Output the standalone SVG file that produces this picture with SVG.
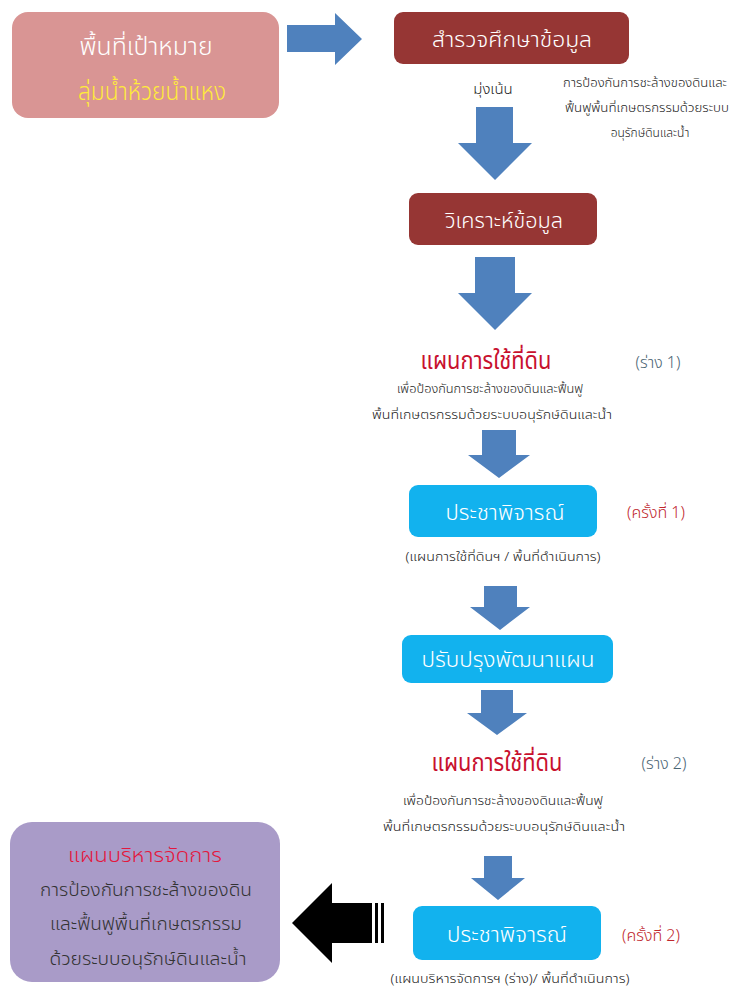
<svg xmlns="http://www.w3.org/2000/svg" width="731" height="989" viewBox="0 0 731 989">
<style>
text{font-family:"Noto Sans Thai","Noto Sans","DejaVu Sans","Liberation Sans",sans-serif;text-anchor:middle;font-weight:300}
.w{fill:#ffffff}
.big{font-size:22px}
.sm{font-size:12px;fill:#1a1a1a;font-weight:350}
.md{font-size:18px;fill:#333}
.red{fill:#c8102e;font-weight:400}
.arrow{fill:#4f81bd}
</style>
<rect width="731" height="989" fill="#ffffff"/>
<g id="connectors">
<polygon class="arrow" points="287,25 335,25 335,13 362,39 335,65 335,52 287,52"/>
<polygon class="arrow" points="476,107 513,107 513,143 532,143 495,180 458,143 476,143"/>
<polygon class="arrow" points="475,257 515,257 515,293 532,293 495,330 458,293 475,293"/>
<polygon class="arrow" points="482,430 516,430 516,455 530,455 499,478 468,455 482,455"/>
<polygon class="arrow" points="484,586 517,586 517,607 530,607 500,630 470,607 484,607"/>
<polygon class="arrow" points="481,690 513,690 513,713 527,713 497,735 467,713 481,713"/>
<polygon class="arrow" points="484,856 512,856 512,878 525,878 498,900 471,878 484,878"/>
<polygon fill="#000000" points="372,903 332,903 332,883 292,923 332,963 332,943 372,943"/>
<rect x="375" y="903" width="3" height="40" fill="#000000"/>
<rect x="381" y="903" width="3" height="40" fill="#000000"/>
</g>
<g id="target">
<rect x="12" y="12" width="267" height="106" rx="16" fill="#d99594"/>
<text class="w" x="146" y="55" font-size="24" textLength="133" lengthAdjust="spacingAndGlyphs">พื้นที่เป้าหมาย</text>
<text x="152" y="100" font-size="24" fill="#ffeb3b" font-weight="400" textLength="148" lengthAdjust="spacingAndGlyphs">ลุ่มน้ำห้วยน้ำแหง</text>
</g>
<g id="survey">
<rect x="394" y="12" width="235" height="52" rx="9" fill="#963634"/>
<text class="w big" x="512" y="47" textLength="160" lengthAdjust="spacingAndGlyphs">สำรวจศึกษาข้อมูล</text>
</g>
<g id="focus">
<text x="493" y="94" font-size="15" fill="#222" font-weight="350">มุ่งเน้น</text>
<text class="sm" x="645" y="87" textLength="164" lengthAdjust="spacingAndGlyphs">การป้องกันการชะล้างของดินและ</text>
<text class="sm" x="647" y="112" textLength="164" lengthAdjust="spacingAndGlyphs">ฟื้นฟูพื้นที่เกษตรกรรมด้วยระบบ</text>
<text class="sm" x="650" y="137">อนุรักษ์ดินและน้ำ</text>
</g>
<g id="analyze">
<rect x="409" y="193" width="188" height="52" rx="9" fill="#963634"/>
<text class="w big" x="504" y="228" textLength="118" lengthAdjust="spacingAndGlyphs">วิเคราะห์ข้อมูล</text>
</g>
<g id="landplan1">
<text class="red" x="486" y="369" font-size="24" textLength="131" lengthAdjust="spacingAndGlyphs">แผนการใช้ที่ดิน</text>
<text x="658" y="368" font-size="16" fill="#4a6473">(ร่าง 1)</text>
<text class="sm" x="490" y="393" textLength="186" lengthAdjust="spacingAndGlyphs">เพื่อป้องกันการชะล้างของดินและฟื้นฟู</text>
<text class="sm" x="492" y="419" textLength="240" lengthAdjust="spacingAndGlyphs">พื้นที่เกษตรกรรมด้วยระบบอนุรักษ์ดินและน้ำ</text>
</g>
<g id="hearing1">
<rect x="409" y="485" width="188" height="52" rx="9" fill="#12b2ee"/>
<text class="w big" x="505" y="520" textLength="119" lengthAdjust="spacingAndGlyphs">ประชาพิจารณ์</text>
<text x="656" y="518" font-size="16" fill="#c0272d">(ครั้งที่ 1)</text>
<text class="sm" x="503" y="561" textLength="195" lengthAdjust="spacingAndGlyphs">(แผนการใช้ที่ดินฯ / พื้นที่ดำเนินการ)</text>
</g>
<g id="improve">
<rect x="402" y="635" width="211" height="48" rx="9" fill="#12b2ee"/>
<text class="w big" x="508" y="667" textLength="173" lengthAdjust="spacingAndGlyphs">ปรับปรุงพัฒนาแผน</text>
</g>
<g id="landplan2">
<text class="red" x="497" y="771" font-size="24" textLength="131" lengthAdjust="spacingAndGlyphs">แผนการใช้ที่ดิน</text>
<text x="664" y="769" font-size="16" fill="#4a6473">(ร่าง 2)</text>
<text class="sm" x="503" y="805" textLength="200" lengthAdjust="spacingAndGlyphs">เพื่อป้องกันการชะล้างของดินและฟื้นฟู</text>
<text class="sm" x="504" y="831" textLength="242" lengthAdjust="spacingAndGlyphs">พื้นที่เกษตรกรรมด้วยระบบอนุรักษ์ดินและน้ำ</text>
</g>
<g id="hearing2">
<rect x="413" y="906" width="188" height="54" rx="9" fill="#12b2ee"/>
<text class="w big" x="507" y="942" textLength="120" lengthAdjust="spacingAndGlyphs">ประชาพิจารณ์</text>
<text x="651" y="941" font-size="16" fill="#c0272d">(ครั้งที่ 2)</text>
<text class="sm" x="510" y="983" textLength="239" lengthAdjust="spacingAndGlyphs">(แผนบริหารจัดการฯ (ร่าง)/ พื้นที่ดำเนินการ)</text>
</g>
<g id="mgmtplan">
<rect x="10" y="822" width="270" height="160" rx="22" fill="#a99bc8"/>
<text x="145" y="862" font-size="20" fill="#e3173e" font-weight="400" textLength="154" lengthAdjust="spacingAndGlyphs">แผนบริหารจัดการ</text>
<text class="md" x="146" y="896" textLength="212" lengthAdjust="spacingAndGlyphs">การป้องกันการชะล้างของดิน</text>
<text class="md" x="146" y="930" textLength="192" lengthAdjust="spacingAndGlyphs">และฟื้นฟูพื้นที่เกษตรกรรม</text>
<text class="md" x="148" y="965" textLength="197" lengthAdjust="spacingAndGlyphs">ด้วยระบบอนุรักษ์ดินและน้ำ</text>
</g>
</svg>
